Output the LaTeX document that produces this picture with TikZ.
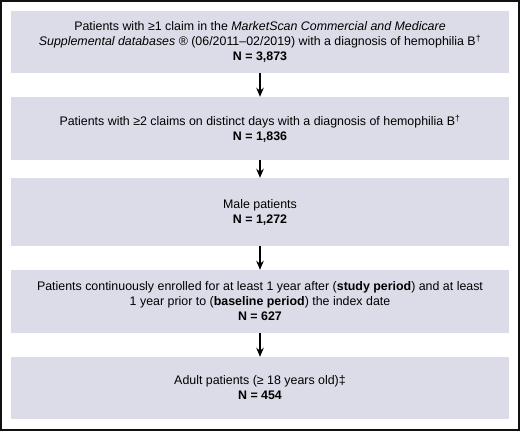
\documentclass[tikz,border=0pt]{standalone}
\usepackage{fontspec}
\setmainfont{Liberation Sans}
\usepackage{xcolor}
\usetikzlibrary{arrows.meta, positioning}
\definecolor{BoxFill}  {HTML}{DCDCE8}
\definecolor{FrameInk} {HTML}{111111}

\begin{document}
\begin{tikzpicture}[x=1pt, y=-1pt, font=\fontsize{12.4}{15}\selectfont,
    flowbox/.style={fill=BoxFill, draw=none, minimum width=498pt, align=center, inner sep=0pt},
    flowarrow/.style={-{Stealth[length=9pt, width=7.5pt]}, line width=1.4pt, black}]
  % Frame round the whole chart; fixes the page size as well
  \useasboundingbox (0,0) rectangle (520,431);
  \draw[FrameInk, line width=2pt] (1,1) rectangle (519,430);
  % Selection steps, top to bottom
  \node[flowbox, minimum height=62pt] (claim1) at (260,42)
    {Patients with ≥1 claim in the \textit{MarketScan Commercial and Medicare}\\
     \textit{Supplemental databases} ® (06/2011–02/2019) with a diagnosis of hemophilia B\textsuperscript{†}\\
     \textbf{N = 3,873}};
  \node[flowbox, minimum height=63pt] (claim2) at (260,128.5)
    {Patients with ≥2 claims on distinct days with a diagnosis of hemophilia B\textsuperscript{†}\\
     \textbf{N = 1,836}};
  \node[flowbox, minimum height=68pt] (male) at (260,212)
    {Male patients\\ \textbf{N = 1,272}};
  \node[flowbox, minimum height=63pt] (enrolled) at (260,301.5)
    {Patients continuously enrolled for at least 1 year after (\textbf{study period}) and at least\\
     1 year prior to (\textbf{baseline period}) the index date\\
     \textbf{N = 627}};
  \node[flowbox, minimum height=62pt] (adult) at (260,388)
    {Adult patients (≥ 18 years old)‡\\ \textbf{N = 454}};
  % Arrows between steps
  \draw[flowarrow] (claim1.south) -- (claim2.north);
  \draw[flowarrow] (claim2.south) -- (male.north);
  \draw[flowarrow] (male.south) -- (enrolled.north);
  \draw[flowarrow] (enrolled.south) -- (adult.north);
\end{tikzpicture}
\end{document}
